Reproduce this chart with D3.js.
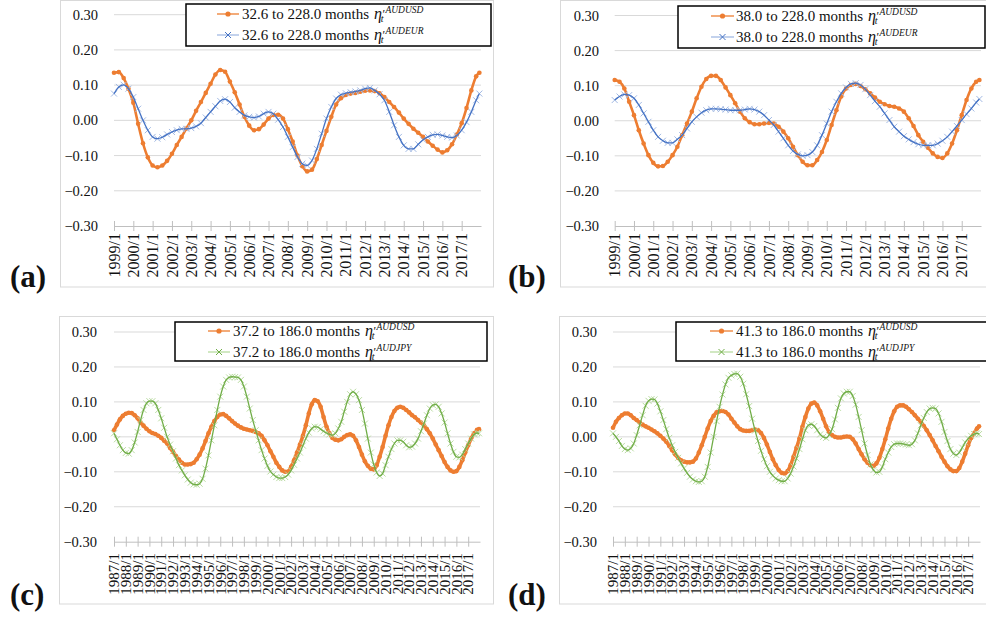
<!DOCTYPE html>
<html>
<head>
<meta charset="utf-8">
<script src="https://cdn.jsdelivr.net/npm/d3@7"></script>
<style>
  body { margin: 0; background: #fff; }
  svg { display: block; }
  text { font-family: "Liberation Serif", "DejaVu Serif", serif; }
</style>
</head>
<body>
<script>
// tick labels
const yTicks = [0.30, 0.20, 0.10, 0.00, -0.10, -0.20, -0.30]
const yearsAB = ["1999/1","2000/1","2001/1","2002/1","2003/1","2004/1","2005/1","2006/1","2007/1","2008/1",
  "2009/1","2010/1","2011/1","2012/1","2013/1","2014/1","2015/1","2016/1","2017/1"]
const yearsCD = ["1987/1","1988/1","1989/1","1990/1","1991/1","1992/1","1993/1","1994/1","1995/1","1996/1",
  "1997/1","1998/1","1999/1","2000/1","2001/1","2002/1","2003/1","2004/1","2005/1","2006/1","2007/1","2008/1",
  "2009/1","2010/1","2011/1","2012/1","2013/1","2014/1","2015/1","2016/1","2017/1"]

// sampled months (month index from first month), quarterly + last month
const monthsAB = d3.range(0, 228, 3).concat([227])
const monthsCD = d3.range(0, 372, 3).concat([371])

// (a) 32.6 to 228.0 months
const audusdA = [0.135, 0.137, 0.12, 0.09, 0.05, -0.01, -0.065, -0.105,
  -0.128, -0.133, -0.128, -0.115, -0.095, -0.07, -0.047, -0.023,
  0.0, 0.027, 0.052, 0.078, 0.104, 0.13, 0.143, 0.138,
  0.11, 0.08, 0.045, 0.01, -0.015, -0.028, -0.025, -0.012,
  0.005, 0.015, 0.016, 0.005, -0.025, -0.06, -0.1, -0.13,
  -0.145, -0.14, -0.11, -0.07, -0.03, 0.01, 0.045, 0.063,
  0.072, 0.076, 0.078, 0.081, 0.084, 0.085, 0.083, 0.077,
  0.066, 0.052, 0.038, 0.022, 0.005, -0.01, -0.024, -0.035,
  -0.047, -0.06, -0.072, -0.083, -0.091, -0.085, -0.068, -0.04,
  -0.008, 0.035, 0.085, 0.125, 0.135]
const audeurA = [0.076, 0.095, 0.101, 0.09, 0.066, 0.033, 0.0, -0.028,
  -0.047, -0.052, -0.048, -0.04, -0.033, -0.028, -0.024, -0.024,
  -0.022, -0.017, -0.008, 0.008, 0.024, 0.04, 0.055, 0.06,
  0.052, 0.036, 0.024, 0.014, 0.01, 0.008, 0.011, 0.019,
  0.024, 0.019, 0.002, -0.019, -0.047, -0.076, -0.104, -0.123,
  -0.128, -0.114, -0.081, -0.038, 0.005, 0.038, 0.062, 0.073,
  0.077, 0.08, 0.082, 0.085, 0.09, 0.092, 0.085, 0.074,
  0.057, 0.024, -0.014, -0.047, -0.071, -0.081, -0.081, -0.068,
  -0.055, -0.047, -0.041, -0.04, -0.043, -0.047, -0.049, -0.043,
  -0.028, -0.005, 0.024, 0.057, 0.076]

// (b) 38.0 to 228.0 months
const audusdB = [0.116, 0.111, 0.092, 0.054, 0.016, -0.027, -0.065, -0.098,
  -0.12, -0.13, -0.129, -0.117, -0.098, -0.074, -0.041, -0.008,
  0.026, 0.064, 0.097, 0.119, 0.128, 0.128, 0.116, 0.095,
  0.073, 0.05, 0.026, 0.007, -0.004, -0.01, -0.01, -0.008,
  -0.006, -0.008, -0.017, -0.031, -0.05, -0.074, -0.098, -0.117,
  -0.127, -0.127, -0.112, -0.089, -0.055, -0.012, 0.03, 0.069,
  0.092, 0.102, 0.105, 0.099, 0.09, 0.078, 0.066, 0.054,
  0.047, 0.042, 0.04, 0.035, 0.026, 0.007, -0.015, -0.041,
  -0.06, -0.077, -0.093, -0.103, -0.106, -0.093, -0.065, -0.027,
  0.016, 0.059, 0.092, 0.111, 0.116]
const audeurB = [0.059, 0.069, 0.075, 0.073, 0.064, 0.045, 0.021, -0.003,
  -0.027, -0.046, -0.057, -0.063, -0.063, -0.053, -0.041, -0.022,
  -0.003, 0.011, 0.023, 0.03, 0.034, 0.034, 0.033, 0.032,
  0.03, 0.03, 0.03, 0.032, 0.034, 0.032, 0.026, 0.016,
  0.002, -0.012, -0.031, -0.05, -0.07, -0.086, -0.096, -0.1,
  -0.098, -0.089, -0.07, -0.041, -0.008, 0.026, 0.054, 0.078,
  0.095, 0.105, 0.107, 0.102, 0.09, 0.073, 0.056, 0.04,
  0.021, 0.002, -0.017, -0.031, -0.044, -0.053, -0.061, -0.067,
  -0.07, -0.07, -0.07, -0.065, -0.057, -0.046, -0.031, -0.015,
  0.002, 0.019, 0.035, 0.052, 0.062]

// (c) 37.2 to 186.0 months
const audusdC = [0.019, 0.035, 0.05, 0.06, 0.066, 0.069, 0.068, 0.062,
  0.053, 0.041, 0.032, 0.023, 0.016, 0.011, 0.008, 0.003,
  -0.003, -0.011, -0.019, -0.032, -0.043, -0.055, -0.065, -0.074,
  -0.079, -0.079, -0.078, -0.074, -0.064, -0.051, -0.033, -0.012,
  0.01, 0.029, 0.045, 0.057, 0.064, 0.065, 0.06, 0.053,
  0.045, 0.038, 0.032, 0.027, 0.023, 0.021, 0.019, 0.017,
  0.014, 0.01, 0.003, -0.01, -0.024, -0.041, -0.057, -0.074,
  -0.086, -0.096, -0.1, -0.099, -0.086, -0.067, -0.045, -0.022,
  0.003, 0.033, 0.067, 0.093, 0.105, 0.102, 0.086, 0.057,
  0.029, 0.01, -0.003, -0.008, -0.01, -0.007, 0.0, 0.005,
  0.007, 0.003, -0.01, -0.029, -0.051, -0.07, -0.083, -0.091,
  -0.093, -0.081, -0.057, -0.029, 0.003, 0.033, 0.057, 0.074,
  0.083, 0.086, 0.083, 0.077, 0.07, 0.062, 0.056, 0.048,
  0.041, 0.033, 0.022, 0.01, -0.005, -0.022, -0.038, -0.055,
  -0.072, -0.086, -0.096, -0.1, -0.098, -0.086, -0.067, -0.045,
  -0.024, -0.005, 0.01, 0.02, 0.022]
const audjpyC = [0.01, -0.007, -0.024, -0.038, -0.046, -0.048, -0.038, -0.016,
  0.014, 0.048, 0.077, 0.096, 0.102, 0.102, 0.096, 0.077,
  0.053, 0.026, 0.0, -0.022, -0.041, -0.062, -0.081, -0.096,
  -0.11, -0.122, -0.131, -0.136, -0.137, -0.134, -0.12, -0.091,
  -0.053, -0.01, 0.033, 0.077, 0.115, 0.144, 0.163, 0.17,
  0.172, 0.171, 0.17, 0.163, 0.144, 0.115, 0.081, 0.048,
  0.019, -0.01, -0.038, -0.062, -0.083, -0.099, -0.108, -0.115,
  -0.118, -0.118, -0.115, -0.108, -0.096, -0.08, -0.062, -0.045,
  -0.025, -0.005, 0.012, 0.024, 0.029, 0.028, 0.022, 0.016,
  0.011, 0.007, 0.005, 0.01, 0.024, 0.043, 0.072, 0.1,
  0.122, 0.129, 0.122, 0.105, 0.077, 0.038, -0.005, -0.045,
  -0.079, -0.102, -0.112, -0.105, -0.081, -0.057, -0.035, -0.019,
  -0.01, -0.01, -0.014, -0.024, -0.03, -0.028, -0.019, -0.005,
  0.016, 0.038, 0.062, 0.081, 0.091, 0.093, 0.086, 0.067,
  0.041, 0.01, -0.019, -0.043, -0.057, -0.059, -0.051, -0.035,
  -0.019, -0.005, 0.007, 0.011, 0.01]

// (d) 41.3 to 186.0 months
const audusdD = [0.026, 0.043, 0.054, 0.062, 0.067, 0.067, 0.062, 0.054,
  0.048, 0.041, 0.035, 0.03, 0.026, 0.021, 0.016, 0.01,
  0.003, -0.005, -0.014, -0.026, -0.038, -0.05, -0.06, -0.067,
  -0.071, -0.073, -0.073, -0.071, -0.062, -0.045, -0.024, 0.0,
  0.024, 0.045, 0.06, 0.07, 0.073, 0.074, 0.071, 0.064,
  0.052, 0.041, 0.03, 0.022, 0.018, 0.017, 0.017, 0.019,
  0.021, 0.019, 0.011, -0.003, -0.022, -0.043, -0.064, -0.081,
  -0.095, -0.103, -0.105, -0.098, -0.081, -0.057, -0.031, -0.005,
  0.029, 0.057, 0.081, 0.095, 0.098, 0.09, 0.073, 0.052,
  0.03, 0.014, 0.005, 0.0, -0.002, -0.002, 0.0, 0.001,
  0.0, -0.007, -0.019, -0.035, -0.05, -0.064, -0.074, -0.081,
  -0.083, -0.076, -0.06, -0.035, -0.007, 0.024, 0.052, 0.073,
  0.086, 0.09, 0.09, 0.086, 0.079, 0.071, 0.062, 0.052,
  0.043, 0.031, 0.019, 0.005, -0.01, -0.026, -0.041, -0.057,
  -0.071, -0.084, -0.093, -0.098, -0.098, -0.089, -0.071, -0.048,
  -0.024, -0.003, 0.01, 0.024, 0.03]
const audjpyD = [0.01, 0.0, -0.012, -0.026, -0.035, -0.038, -0.033, -0.019,
  0.005, 0.033, 0.062, 0.089, 0.103, 0.108, 0.107, 0.095,
  0.073, 0.048, 0.022, -0.003, -0.024, -0.043, -0.06, -0.076,
  -0.09, -0.103, -0.114, -0.122, -0.127, -0.129, -0.127, -0.114,
  -0.086, -0.045, 0.0, 0.045, 0.086, 0.121, 0.15, 0.169,
  0.176, 0.18, 0.181, 0.172, 0.152, 0.122, 0.088, 0.052,
  0.018, -0.012, -0.04, -0.064, -0.084, -0.1, -0.111, -0.119,
  -0.124, -0.127, -0.127, -0.119, -0.105, -0.085, -0.062, -0.035,
  -0.007, 0.019, 0.033, 0.036, 0.031, 0.019, 0.007, 0.0,
  -0.003, 0.005, 0.022, 0.05, 0.083, 0.11, 0.124, 0.129,
  0.129, 0.117, 0.092, 0.057, 0.019, -0.019, -0.052, -0.079,
  -0.095, -0.102, -0.1, -0.086, -0.064, -0.045, -0.029, -0.021,
  -0.019, -0.019, -0.02, -0.022, -0.024, -0.021, -0.01, 0.01,
  0.033, 0.054, 0.071, 0.081, 0.083, 0.081, 0.067, 0.043,
  0.014, -0.012, -0.035, -0.048, -0.052, -0.045, -0.031, -0.016,
  -0.005, 0.003, 0.008, 0.01, 0.008]

const width = 986, height = 618

const styles = {
  AUDUSD: {line: "#ED7D31", mark: "#ED7D31", kind: "dot"},
  AUDEUR: {line: "#4472C4", mark: "#A3BAE4", kind: "cross"},
  AUDJPY: {line: "#70AD47", mark: "#B9DBA1", kind: "cross"}
}

const panels = [
  {tag: "(a)", band: "32.6 to 228.0 months", months: monthsAB, n: 228, years: yearsAB,
   series: [["AUDUSD", audusdA], ["AUDEUR", audeurA]],
   frame: [60.5, 0.5, 433, 286.5], x0: 114, x1: 481, yTop: 14.7, yBot: 226, yLab: 98,
   xLabTop: 233, xFont: 16, tagPos: [10, 287],
   legend: {x: 186, y: 4, w: 305, h: 42, rows: [14, 35], l0: 217, l1: 239, tx: 242}},
  {tag: "(b)", band: "38.0 to 228.0 months", months: monthsAB, n: 228, years: yearsAB,
   series: [["AUDUSD", audusdB], ["AUDEUR", audeurB]],
   frame: [560.5, 0.5, 440, 286.5], x0: 614.7, x1: 981, yTop: 15.5, yBot: 226, yLab: 599,
   xLabTop: 233, xFont: 16, tagPos: [508, 287],
   legend: {x: 678, y: 6, w: 307, h: 42, rows: [16, 37], l0: 711, l1: 734, tx: 736}},
  {tag: "(c)", band: "37.2 to 186.0 months", months: monthsCD, n: 372, years: yearsCD,
   series: [["AUDUSD", audusdC], ["AUDJPY", audjpyC]],
   frame: [59.5, 316.5, 434, 287.5], x0: 114, x1: 480, yTop: 332, yBot: 541.7, yLab: 97,
   xLabTop: 553, xFont: 15, tagPos: [10, 605],
   legend: {x: 175, y: 322, w: 312, h: 39, rows: [331, 352], l0: 208, l1: 230, tx: 233}},
  {tag: "(d)", band: "41.3 to 186.0 months", months: monthsCD, n: 372, years: yearsCD,
   series: [["AUDUSD", audusdD], ["AUDJPY", audjpyD]],
   frame: [559.5, 316.5, 440, 287.5], x0: 613, x1: 980, yTop: 332, yBot: 541.7, yLab: 597,
   xLabTop: 553, xFont: 15, tagPos: [508, 605],
   legend: {x: 676, y: 322, w: 320, h: 39, rows: [331, 352], l0: 710, l1: 733, tx: 736}}
]

const svg = d3.select("body").append("svg")
  .attr("width", width)
  .attr("height", height)

const crossPath = s => `M${-s},${-s}L${s},${s}M${-s},${s}L${s},${-s}`

function drawMarker(g, kind, color, x, y, big) {
  if (kind === "dot") {
    g.append("circle").attr("cx", x).attr("cy", y).attr("r", big ? 2.6 : 2.3).attr("fill", color)
  } else {
    g.append("path").attr("d", crossPath(big ? 3 : 3))
      .attr("transform", `translate(${x},${y})`)
      .attr("stroke", color).attr("stroke-width", 1).attr("fill", "none")
  }
}

panels.forEach(p => {
  const g = svg.append("g")

  // chart area frame
  g.append("rect")
    .attr("x", p.frame[0]).attr("y", p.frame[1])
    .attr("width", p.frame[2]).attr("height", p.frame[3])
    .attr("fill", "none").attr("stroke", "#d9d9d9")

  const x = d3.scaleLinear().domain([0, p.n]).range([p.x0, p.x1])
  const y = d3.scaleLinear().domain([-0.3, 0.3]).range([p.yBot, p.yTop])

  // gridlines
  g.selectAll(".grid").data(yTicks.filter(v => v > -0.3)).enter()
    .append("line")
      .attr("x1", p.x0).attr("x2", p.x1)
      .attr("y1", d => y(d)).attr("y2", d => y(d))
      .attr("stroke", "#d9d9d9").attr("stroke-width", 1)

  // y labels
  g.selectAll(".ylab").data(yTicks).enter()
    .append("text")
      .attr("x", p.yLab).attr("y", d => y(d))
      .attr("dy", "0.35em")
      .attr("text-anchor", "end")
      .attr("font-size", 14.5)
      .attr("fill", "#111")
      .text(d => d3.format(".2f")(d))

  // category axis
  const axis = g.append("g").attr("transform", `translate(0,${p.yBot})`)
    .call(d3.axisBottom(x)
      .tickValues(p.years.map((d, i) => i * 12))
      .tickSizeInner(0).tickSizeOuter(0)
      .tickFormat(""))
  axis.select(".domain").attr("stroke", "#bfbfbf")
  axis.selectAll(".tick line")
    .attr("y1", -5).attr("y2", 5)
    .attr("stroke", "#bfbfbf")

  g.selectAll(".xlab").data(p.years).enter()
    .append("text")
      .attr("transform", (d, i) => `translate(${x(i * 12)},${p.xLabTop}) rotate(-90)`)
      .attr("dy", "0.35em")
      .attr("text-anchor", "end")
      .attr("font-size", p.xFont)
      .attr("fill", "#111")
      .text(d => d)

  // series
  p.series.forEach(([name, values]) => {
    const st = styles[name]
    const pts = p.months.map((m, i) => ({m: m, v: values[i]})).filter(d => d.v !== undefined)
    const line = d3.line()
      .x(d => x(d.m))
      .y(d => y(d.v))
      .curve(d3.curveMonotoneX)
    const sg = g.append("g")
    if (st.kind === "dot") {
      sg.append("path").attr("d", line(pts))
        .attr("fill", "none").attr("stroke", st.line)
        .attr("stroke-width", p.n > 300 ? 3.6 : 2.6)
      pts.forEach(d => drawMarker(sg, "dot", st.mark, x(d.m), y(d.v), false))
    } else {
      pts.forEach(d => drawMarker(sg, "cross", st.mark, x(d.m), y(d.v), false))
      sg.append("path").attr("d", line(pts))
        .attr("fill", "none").attr("stroke", st.line)
        .attr("stroke-width", 1.3)
    }
  })

  // legend
  const L = p.legend
  const lg = g.append("g")
  lg.append("rect")
    .attr("x", L.x).attr("y", L.y).attr("width", L.w).attr("height", L.h)
    .attr("fill", "#fff").attr("stroke", "#000").attr("stroke-width", 1.5)
  p.series.forEach(([name], i) => {
    const st = styles[name]
    const ry = L.rows[i]
    lg.append("line")
      .attr("x1", L.l0).attr("x2", L.l1).attr("y1", ry).attr("y2", ry)
      .attr("stroke", st.kind === "dot" ? st.line : st.mark).attr("stroke-width", 1.3)
    drawMarker(lg, st.kind, st.kind === "dot" ? st.mark : st.line, (L.l0 + L.l1) / 2, ry, true)
    const t = lg.append("text")
      .attr("x", L.tx).attr("y", ry + 5)
      .attr("font-size", 15).attr("fill", "#111")
    t.append("tspan").text(p.band)
    t.append("tspan").attr("dx", 5).attr("font-style", "italic").attr("font-size", 16).text("η")
    t.append("tspan").attr("dx", 0.5).attr("dy", -1).attr("font-size", 12).text("′")
    t.append("tspan").attr("dx", -4.5).attr("dy", 4).attr("font-style", "italic").attr("font-size", 10).text("t")
    t.append("tspan").attr("dx", 2).attr("dy", -9).attr("font-style", "italic").attr("font-size", 9.5).text(name)
  })

  // panel tag
  g.append("text")
    .attr("x", p.tagPos[0]).attr("y", p.tagPos[1])
    .attr("font-size", 31).attr("font-weight", "bold")
    .attr("fill", "#111")
    .text(p.tag)
})
</script>
</body>
</html>
